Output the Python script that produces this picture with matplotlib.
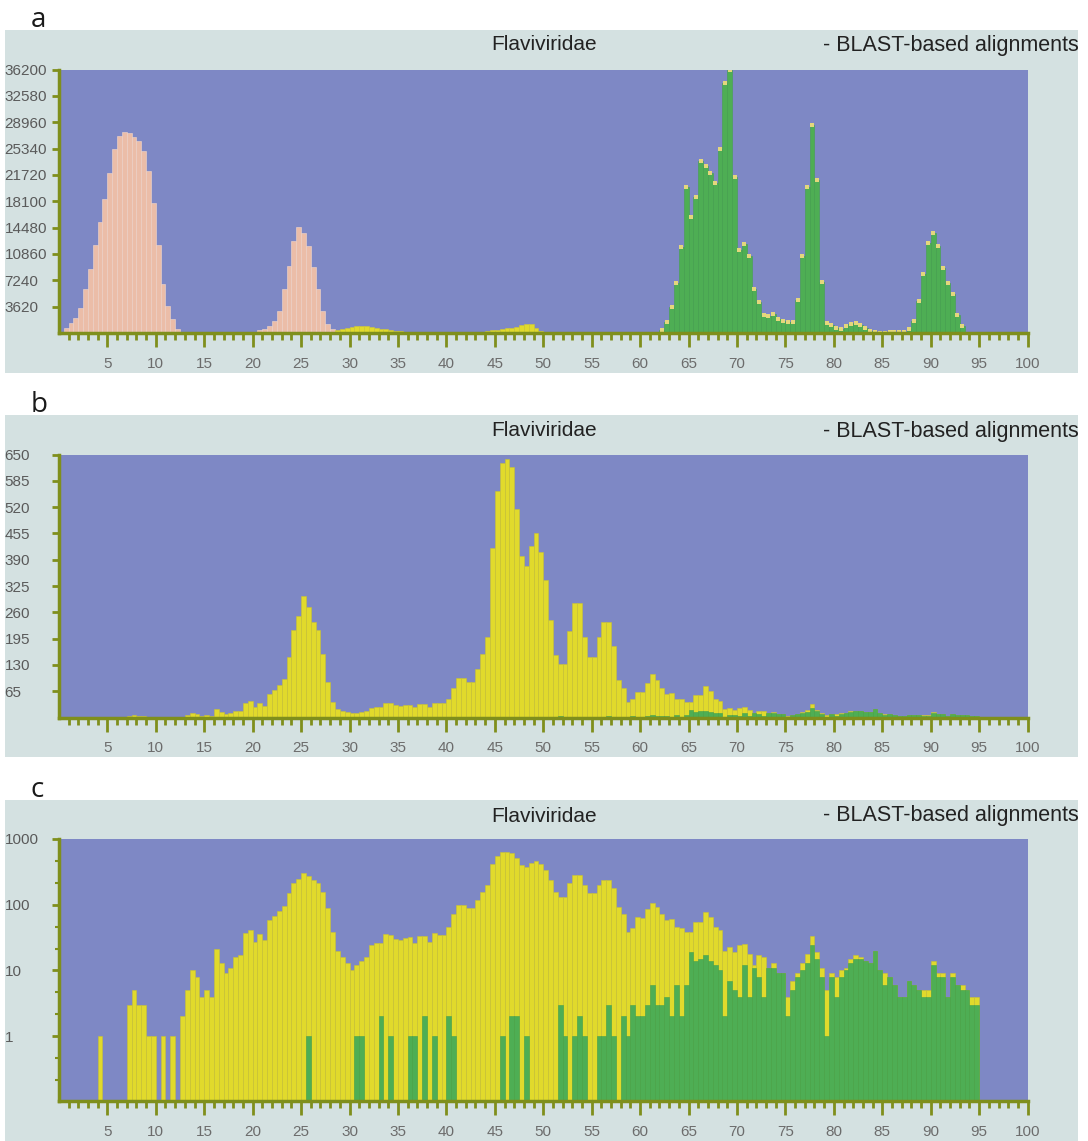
import matplotlib.pyplot as plt
import matplotlib.ticker as mticker
from matplotlib.patches import Rectangle
import numpy as np

plt.rcParams['font.family'] = ['Liberation Sans', 'DejaVu Sans']

BIN = 0.5  # width of one histogram bin (% identity)

# ---- panel a: counts per 0.5 bin, each series starts at a bin index
a_pink_start = 0
a_pink = [
    150, 730, 1330, 2100, 3480, 6090, 8830, 12040, 15240, 18450,
    22000, 25220, 27050, 27650, 27500, 26960, 26360, 25000, 22240, 17800,
    12080, 6680, 3700, 1880, 500, 100, 0, 0, 0, 0,
    0, 0, 0, 0, 0, 0, 0, 0, 0, 0,
    150, 350, 600, 960, 1650, 3000, 6000, 9200, 12600, 14500,
    13800, 12000, 9000, 6000, 3000, 1200, 500,
]
a_yellow_start = 57
a_yellow = [
    450, 500, 650, 800, 900, 950, 900, 800, 700, 600,
    500, 400, 300, 250, 200, 150, 100, 80, 60, 40,
    40, 40, 40, 100, 150, 100, 40, 40, 40, 40,
    150, 250, 350, 450, 550, 650, 750, 850, 1100, 1300,
    1250, 700, 300, 100, 50, 50, 50, 50, 50, 50,
    50, 50, 80, 100, 60, 30, 30, 30, 30, 30,
    30, 30, 30, 30, 60, 60, 60,
]
a_green_start = 124
a_green = [
    460, 1520, 3540, 6900, 11820, 20010, 15870, 18720, 23690, 23000,
    21940, 20560, 25300, 34360, 36110, 21390, 11360, 12280, 10580, 5980,
    4280, 2530, 2300, 2670, 1980, 1700, 1470, 1470, 4600, 10580,
    20010, 28520, 21020, 7040, 1380, 1060, 690, 550, 920, 1290,
    1380, 1150, 690, 230, 80, 60, 60, 80, 100, 100,
    100, 600, 1700, 4370, 8050, 12420, 13800, 11960, 8970, 6900,
    5290, 2440, 920, 0,
]

# ---- panels b and c: same counts, linear and log scale
bc_total_start = 0
bc_total = [
    0, 0, 0, 0, 0, 0, 0, 0, 1, 0,
    0, 0, 0, 0, 3, 5, 3, 3, 1, 1,
    0, 1, 0, 1, 0, 2, 5, 10, 8, 4,
    5, 4, 21, 13, 9, 11, 16, 17, 37, 42,
    27, 36, 29, 58, 67, 80, 95, 149, 216, 250,
    300, 272, 237, 216, 158, 88, 39, 20, 16, 13,
    10, 12, 14, 16, 24, 26, 26, 36, 35, 30,
    29, 31, 32, 26, 33, 33, 27, 37, 35, 35,
    46, 73, 98, 98, 88, 88, 120, 158, 200, 420,
    560, 630, 640, 620, 515, 400, 375, 425, 455, 410,
    340, 240, 155, 132, 133, 215, 283, 283, 198, 150,
    149, 198, 237, 237, 177, 93, 72, 38, 45, 64,
    62, 86, 108, 93, 73, 58, 60, 46, 45, 38,
    39, 55, 55, 78, 66, 46, 41, 20, 23, 19,
    24, 25, 18, 12, 17, 16, 11, 13, 9, 9,
    4, 7, 9, 13, 18, 33, 19, 11, 5, 9,
    8, 10, 11, 15, 17, 16, 14, 13, 20, 10,
    9, 8, 6, 4, 4, 7, 6, 5, 5, 5,
    14, 9, 9, 4, 9, 6, 6, 5, 4, 4,
]
bc_green_start = 51
bc_green = [
    1, 0, 0, 0, 0, 0, 0, 0, 0, 0,
    1, 1, 0, 0, 0, 2, 0, 1, 0, 0,
    0, 1, 1, 0, 2, 0, 1, 0, 0, 2,
    1, 0, 0, 0, 0, 0, 0, 0, 0, 0,
    1, 0, 2, 2, 0, 1, 0, 0, 0, 0,
    0, 0, 3, 1, 0, 1, 2, 1, 0, 0,
    1, 1, 3, 1, 0, 2, 1, 3, 2, 2,
    3, 6, 3, 3, 4, 2, 6, 2, 6, 19,
    14, 15, 17, 14, 12, 10, 2, 7, 5, 4,
    12, 4, 11, 8, 4, 11, 11, 9, 9, 2,
    5, 8, 10, 13, 24, 15, 8, 1, 8, 4,
    8, 10, 13, 15, 15, 14, 13, 20, 10, 6,
    8, 6, 4, 4, 7, 6, 5, 4, 4, 12,
    8, 8, 4, 8, 6, 5, 5, 3, 3,
]

x_ticks = list(range(5, 101, 5))
a_yticks = [3620, 7240, 10860, 14480, 18100, 21720, 25340, 28960, 32580, 36200]
b_yticks = [65, 130, 195, 260, 325, 390, 455, 520, 585, 650]
c_yticks = [1, 10, 100, 1000]

title = 'Flaviviridae'
subtitle = '- BLAST-based alignments'

PANEL_BG = '#D4E1E1'
PLOT_BG = '#7E88C5'
OLIVE = '#7F8F1C'
PINK = '#EBBDA8'
YELLOW = '#E1DA2C'
GREEN = '#4EAE54'

W, H = 1088, 1141
fig = plt.figure(figsize=(W / 100, H / 100), dpi=100)


def box(l, t, r, b):
    return [l / W, 1 - b / H, (r - l) / W, (b - t) / H]


def binX(start, vals):
    return BIN * (start + np.arange(len(vals)))


def drawBars(ax, start, vals, color, edge):
    x = binX(start, vals)
    v = np.array(vals, dtype=float)
    m = v > 0
    ax.bar(x[m], v[m], width=BIN, align='edge', color=color,
           edgecolor=edge, linewidth=0.4, zorder=2)
    return x[m] + BIN / 2, v[m]


def makePanel(letter, top, bottom, ax_top, ax_bottom, title_y):
    fig.add_artist(Rectangle((5 / W, 1 - bottom / H), (1078 - 5) / W, (bottom - top) / H,
                             transform=fig.transFigure, facecolor=PANEL_BG,
                             edgecolor='none', zorder=0))
    fig.text(31 / W, 1 - (top - 3) / H, letter, fontsize=20, color='#1a1a1a',
             family=['Open Sans', 'DejaVu Sans'], va='baseline')
    fig.text(544 / W, 1 - title_y / H, title, fontsize=15, color='#222222',
             ha='center', va='center')
    t = fig.text(823 / W, 1 - title_y / H, subtitle, fontsize=15.5, color='#222222',
                 ha='left', va='center')
    t.set_clip_box(fig.transFigure.transform_bbox(
        plt.matplotlib.transforms.Bbox([[0, 0], [1078 / W, 1]])))
    t.set_clip_on(True)
    ax = fig.add_axes(box(58.9, ax_top, 1027.6, ax_bottom))
    ax.set_facecolor(PLOT_BG)
    ax.set_xlim(0, 100)
    for s in ['top', 'right']:
        ax.spines[s].set_visible(False)
    for s in ['left', 'bottom']:
        ax.spines[s].set_color(OLIVE)
        ax.spines[s].set_linewidth(2.5)
        ax.spines[s].set_zorder(4)
    ax.set_xticks(x_ticks)
    ax.set_xticks(range(1, 101), minor=True)
    ax.tick_params(axis='x', which='major', length=10, width=2, color=OLIVE,
                   pad=7, labelsize=11, labelcolor='#6c6c6c')
    ax.tick_params(axis='x', which='minor', length=5, width=2, color=OLIVE)
    return ax


def styleY(ax, ticks):
    ax.set_yticks(ticks, labels=[str(t) for t in ticks])
    ax.tick_params(axis='y', which='major', length=5, width=2, color=OLIVE,
                   pad=34, labelsize=11, labelcolor='#5a5a5a')
    for lbl in ax.get_yticklabels():
        lbl.set_horizontalalignment('left')


# panel a
axa = makePanel('a', 30, 373, 69.5, 333, 45)
axa.set_ylim(0, 36200)
drawBars(axa, a_pink_start, a_pink, PINK, '#F4D8CA')
drawBars(axa, a_yellow_start, a_yellow, YELLOW, '#D0C834')
gx, gy = drawBars(axa, a_green_start, a_green, GREEN, '#45A24B')
axa.scatter(gx, gy, s=5, marker='s', color='#E4D77C', linewidths=0, zorder=3)
styleY(axa, a_yticks)

# panel b
axb = makePanel('b', 415, 757, 454.5, 717.5, 431)
axb.set_ylim(0, 650)
drawBars(axb, bc_total_start, bc_total, YELLOW, '#C9C232')
drawBars(axb, bc_green_start, bc_green, GREEN, '#45A24B')
styleY(axb, b_yticks)

# panel c
axc = makePanel('c', 800, 1141, 839, 1101, 816)
axc.set_yscale('log', nonpositive='clip')
axc.set_ylim(0.1035, 1000)
drawBars(axc, bc_total_start, bc_total, YELLOW, '#C9C232')
drawBars(axc, bc_green_start, bc_green, GREEN, '#45A24B')
styleY(axc, c_yticks)
axc.set_yticks([10 ** (n + f) for n in range(-1, 3) for f in (1 / 3, 2 / 3)], minor=True)
axc.yaxis.set_minor_formatter(mticker.NullFormatter())
axc.tick_params(axis='y', which='minor', length=3, width=1.5, color=OLIVE)

fig.savefig('out.png', dpi=100, facecolor='white')
